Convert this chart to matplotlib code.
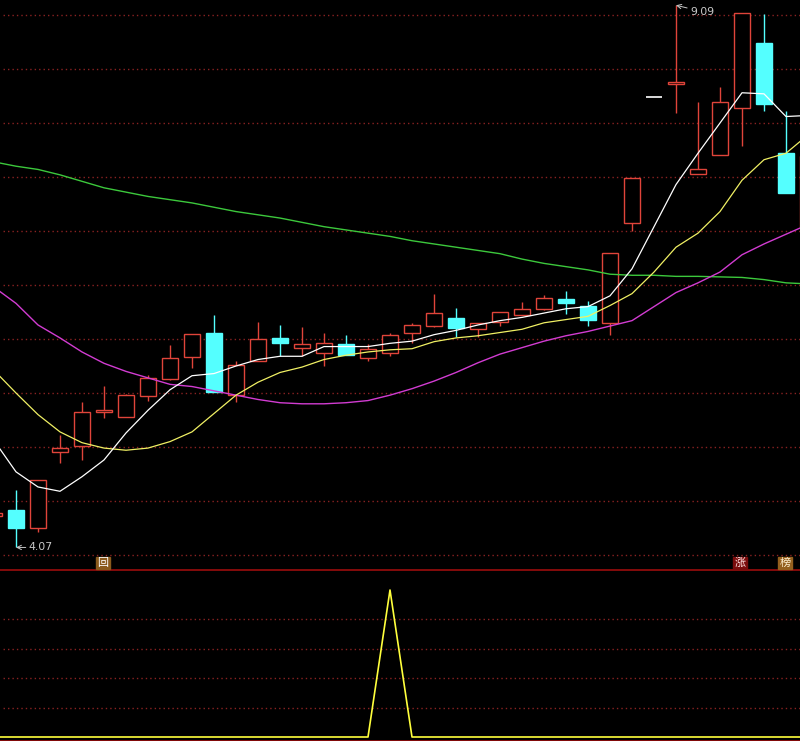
import matplotlib
matplotlib.use('Agg')
import matplotlib.pyplot as plt
import numpy as np

plt.rcParams['font.family'] = ['DejaVu Sans', 'Noto Sans CJK SC']

# bar index (-1 and 36 are the partly visible bars at the edges)
idx = list(range(-1, 37))

opens = [4.36, 4.42, 4.25, 4.95, 5.01, 5.32, 5.28, 5.475, 5.63, 5.83,
         6.06, 5.48, 5.80, 6.01, 5.92, 5.87, 5.95, 5.82, 5.87, 6.06,
         6.12, 6.19, 6.09, 6.16, 6.22, 6.28, 6.37, 6.31, 6.145, 7.07,
         8.24, 8.36, 7.53, 7.70, 8.14, 8.74, 7.72, 7.04]
highs = [4.39, 4.60, 4.69, 5.11, 5.42, 5.565, 5.49, 5.67, 5.94, 6.05,
         6.22, 5.80, 6.155, 6.13, 6.11, 6.06, 6.04, 5.95, 6.06, 6.145,
         6.42, 6.29, 6.15, 6.25, 6.34, 6.41, 6.44, 6.35, 6.80, 7.49,
         8.24, 9.09, 8.19, 8.33, 9.02, 9.01, 8.11, 7.69]
lows = [4.36, 4.07, 4.21, 4.85, 4.88, 5.27, 5.28, 5.43, 5.62, 5.73,
        5.51, 5.42, 5.80, 5.84, 5.84, 5.75, 5.855, 5.80, 5.84, 5.96,
        6.11, 6.02, 6.02, 6.12, 6.22, 6.27, 6.23, 6.12, 6.04, 7.00,
        8.24, 8.09, 7.53, 7.70, 7.79, 8.11, 7.35, 7.04]
closes = [4.39, 4.25, 4.69, 4.99, 5.32, 5.34, 5.48, 5.64, 5.82, 6.05,
          5.51, 5.76, 6.00, 5.96, 5.95, 5.96, 5.855, 5.91, 6.04, 6.13,
          6.24, 6.105, 6.145, 6.25, 6.28, 6.38, 6.33, 6.18, 6.80, 7.49,
          8.24, 8.38, 7.57, 8.19, 9.02, 8.18, 7.35, 7.69]

ma5 = [5.06, 4.77, 4.63, 4.59, 4.725, 4.88, 5.13, 5.34, 5.53, 5.66,
       5.68, 5.75, 5.81, 5.84, 5.84, 5.93, 5.93, 5.93, 5.96, 5.98,
       6.04, 6.08, 6.13, 6.17, 6.20, 6.24, 6.28, 6.30, 6.40, 6.65,
       7.04, 7.43, 7.72, 8.00, 8.28, 8.27, 8.06, 8.07]
ma10 = [5.71, 5.50, 5.30, 5.14, 5.04, 4.99, 4.97, 4.99, 5.05, 5.14,
        5.31, 5.48, 5.60, 5.69, 5.74, 5.81, 5.85, 5.88, 5.90, 5.91,
        5.975, 6.01, 6.03, 6.06, 6.09, 6.15, 6.18, 6.21, 6.31, 6.42,
        6.62, 6.85, 6.98, 7.18, 7.47, 7.66, 7.72, 7.89]
ma20 = [6.48, 6.33, 6.13, 6.01, 5.88, 5.775, 5.70, 5.64, 5.58, 5.56,
        5.52, 5.48, 5.44, 5.41, 5.40, 5.40, 5.41, 5.43, 5.48, 5.54,
        5.61, 5.69, 5.78, 5.86, 5.92, 5.98, 6.03, 6.07, 6.12, 6.17,
        6.30, 6.43, 6.52, 6.62, 6.78, 6.88, 6.97, 7.06]
ma60 = [7.64, 7.60, 7.57, 7.52, 7.46, 7.40, 7.36, 7.32, 7.29, 7.26,
        7.22, 7.18, 7.15, 7.12, 7.08, 7.04, 7.01, 6.98, 6.95, 6.91,
        6.88, 6.85, 6.82, 6.79, 6.74, 6.70, 6.67, 6.64, 6.60, 6.59,
        6.59, 6.58, 6.58, 6.575, 6.57, 6.55, 6.52, 6.51]

signal = [0] * 18 + [1] + [0] * 19

up_col = '#e0443a'
down_col = '#54ffff'
grid_col = '#8a2222'

fig = plt.figure(figsize=(8, 7.41), dpi=100, facecolor='black')
ax = fig.add_axes([0, 171 / 741, 1, 570 / 741], facecolor='black')
ax2 = fig.add_axes([0, 0, 1, 171 / 741], facecolor='black')

# price grid
for g in np.arange(4.0, 9.01, 0.5):
    ax.axhline(g, color=grid_col, lw=1.0, ls=(1, (1, 2.2)), zorder=0)

w = 0.75
for i, o, h, l, c in zip(idx, opens, highs, lows, closes):
    if h == l:
        # one-price bar
        ax.hlines(c, i - w / 2, i + w / 2, color='white', lw=1.2, zorder=3)
        continue
    top, bot = max(o, c), min(o, c)
    if c >= o:
        ax.bar(i, top - bot, w, bot, facecolor='black', edgecolor=up_col,
               lw=1.0, zorder=3)
        col = up_col
    else:
        ax.bar(i, top - bot, w, bot, facecolor=down_col, edgecolor=down_col,
               lw=1.0, zorder=3)
        col = down_col
    if h > top:
        ax.vlines(i, top, h, color=col, lw=1.0, zorder=2)
    if l < bot:
        ax.vlines(i, l, bot, color=col, lw=1.0, zorder=2)

ax.plot(idx, ma60, color='#3cc83c', lw=1.0, zorder=4)
ax.plot(idx, ma20, color='#d23cd2', lw=1.0, zorder=4)
ax.plot(idx, ma10, color='#f0f064', lw=0.9, zorder=4)
ax.plot(idx, ma5, color='white', lw=0.9, zorder=4)

# max / min labels
vis_h = highs[1:-1]
vis_l = lows[1:-1]
hi = int(np.argmax(vis_h)) + 1
lo = int(np.argmin(vis_l)) + 1
ax.annotate(f'{highs[hi]:.2f}', xy=(idx[hi], highs[hi]), xytext=(10, -4.5),
            textcoords='offset points', ha='left', va='center',
            color='#c8c8c8', fontsize=7.8,
            arrowprops=dict(arrowstyle='->', color='#c8c8c8', lw=0.7,
                            shrinkA=0, shrinkB=0))
ax.annotate(f'{lows[lo]:.2f}', xy=(idx[lo], lows[lo]), xytext=(9, 0),
            textcoords='offset points', ha='left', va='center',
            color='#c8c8c8', fontsize=7.8,
            arrowprops=dict(arrowstyle='->', color='#c8c8c8', lw=0.7,
                            shrinkA=0, shrinkB=0))

ax.set_xlim(-16 / 22, 784 / 22)
ax.set_ylim(9 - 555 / 108, 9 + 15 / 108)
ax.axis('off')

# lower indicator panel
for g in [0.2, 0.4, 0.6, 0.8]:
    ax2.axhline(g, color=grid_col, lw=1.0, ls=(1, (1, 2.2)), zorder=0)
ax2.plot(idx, signal, color='#ffff3c', lw=1.2)
ax2.set_xlim(-16 / 22, 784 / 22)
ax2.set_ylim(-4 / 147, 167 / 147)
ax2.set_xticks([])
ax2.set_yticks([])
for s in ['left', 'right']:
    ax2.spines[s].set_visible(False)
for s in ['top', 'bottom']:
    ax2.spines[s].set_color('#9b0d0d')
    ax2.spines[s].set_linewidth(1.2)

# small marker icons
fig.text(103 / 800, 1 - 563 / 741, '回', color='white', fontsize=8,
         ha='center', va='center',
         bbox=dict(boxstyle='square,pad=0.12', fc='#8a5a1c', ec='#8a5a1c'))
fig.text(740 / 800, 1 - 563 / 741, '涨', color='#ffe0e0', fontsize=8,
         ha='center', va='center',
         bbox=dict(boxstyle='square,pad=0.12', fc='#7a0c0c', ec='#7a0c0c'))
fig.text(785 / 800, 1 - 563 / 741, '榜', color='#fff0d0', fontsize=8,
         ha='center', va='center',
         bbox=dict(boxstyle='square,pad=0.12', fc='#94601e', ec='#94601e'))

fig.savefig('out.png', dpi=100, facecolor='black')
